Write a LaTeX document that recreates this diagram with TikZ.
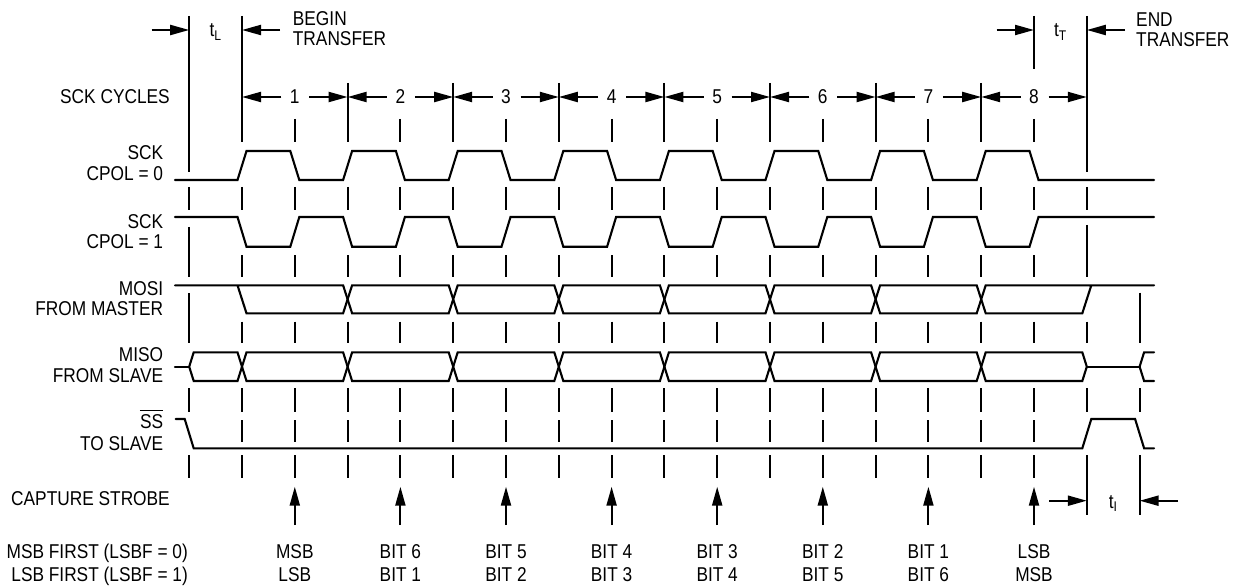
\documentclass[tikz,border=0pt]{standalone}
\usepackage{fontspec}
\setmainfont{Liberation Sans}[FakeStretch=0.865]
\usetikzlibrary{arrows.meta}
\newcommand\lblfont{\fontsize{20}{22}\selectfont}
\begin{document}
\begin{tikzpicture}[x=1pt,y=-1pt,
  sig/.style={line width=2.1pt,line join=miter,line cap=round},
  gridln/.style={line width=2.1pt},
  dim/.style={line width=2.1pt,-{Triangle[length=19pt,width=10pt]}},
  lbl/.style={inner sep=0pt,anchor=base east,font=\lblfont},
  lblw/.style={inner sep=0pt,anchor=base west,font=\lblfont},
  lblc/.style={inner sep=0pt,anchor=base,font=\lblfont}]
\useasboundingbox (0,0) rectangle (1242,588);

% ---------- grid segments ----------
\foreach \a/\b in {16/172,187/210,227/277,293/343,388/412,455/478}
  \draw[gridln] (189.2,\a) -- (189.2,\b);
\foreach \a/\b in {16/142,187/210,255/277,321.7/343,388/412,420/442,455/478}
  \draw[gridln] (242,\a) -- (242,\b);
\foreach \j in {1,...,15}
  \foreach \a/\b in {187/210,255/277,321.7/343,388/412,420/442,455/478}
    \draw[gridln] ({242+52.8*\j},\a) -- ({242+52.8*\j},\b);
\foreach \j in {2,4,...,14}
  \draw[gridln] ({242+52.8*\j},83) -- ({242+52.8*\j},142);
\foreach \j in {1,3,...,15}
  \draw[gridln] ({242+52.8*\j},119) -- ({242+52.8*\j},142);
\draw[gridln] (1034,16) -- (1034,69);
\foreach \a/\b in {16/172,187/210,225/277,321.7/343,388/412,455/515}
  \draw[gridln] (1086.8,\a) -- (1086.8,\b);
\foreach \a/\b in {292.7/343,388/412,455/515}
  \draw[gridln] (1139.6,\a) -- (1139.6,\b);

% ---------- SCK CPOL = 0 ----------
\draw[sig] (175,180) foreach \k in {0,...,7} {
  -- ({237.5+105.6*\k},180) -- ({246.5+105.6*\k},151)
  -- ({290.3+105.6*\k},151) -- ({299.3+105.6*\k},180) } -- (1154,180);
% ---------- SCK CPOL = 1 ----------
\draw[sig] (175,217) foreach \k in {0,...,7} {
  -- ({237.5+105.6*\k},217) -- ({246.5+105.6*\k},246.7)
  -- ({290.3+105.6*\k},246.7) -- ({299.3+105.6*\k},217) } -- (1154,217);

% ---------- MOSI ----------
\draw[sig] (175,285.3) -- (343.1,285.3) -- (347.6,299.3) -- (343.1,313.3)
  -- (246.5,313.3) -- (237.5,285.3);
\foreach \c in {0,...,5} {
  \pgfmathsetmacro\L{347.6+105.6*\c}
  \pgfmathsetmacro\R{\L+105.6}
  \draw[sig] (\L,299.3) -- ({\L+4.5},285.3) -- ({\R-4.5},285.3) -- (\R,299.3)
    -- ({\R-4.5},313.3) -- ({\L+4.5},313.3) -- cycle;
}
\draw[sig] (1154,285.3) -- (985.7,285.3) -- (981.2,299.3) -- (985.7,313.3)
  -- (1082.3,313.3) -- (1091.3,285.3);

% ---------- MISO ----------
\draw[sig] (175,366.7) -- (189.2,366.7);
\foreach \L/\R in {189.2/242,242/347.6,347.6/453.2,453.2/558.8,558.8/664.4,
                   664.4/770,770/875.6,875.6/981.2,981.2/1086.8}
  \draw[sig] (\L,366.7) -- ({\L+4.5},352.3) -- ({\R-4.5},352.3) -- (\R,366.7)
    -- ({\R-4.5},381) -- ({\L+4.5},381) -- cycle;
\draw[sig] (1086.8,366.7) -- (1139.6,366.7);
\draw[sig] (1154,352.3) -- (1144.1,352.3) -- (1139.6,366.7) -- (1144.1,381) -- (1154,381);

% ---------- SS ----------
\draw[sig] (175.7,419) -- (184.7,419) -- (193.7,448.3) -- (1082.3,448.3)
  -- (1091.3,419) -- (1135.1,419) -- (1144.1,448.3) -- (1154,448.3);

% ---------- signal labels ----------
\node[lbl] (sck0) at (163.3,160) {SCK};
\node[lbl] (cpol0) at (163.3,181) {CPOL = 0};
\node[lbl] (sck1) at (163.3,228.3) {SCK};
\node[lbl] (cpol1) at (163.3,248.3) {CPOL = 1};
\node[lbl] (mosi) at (163.3,295) {MOSI};
\node[lbl] (frommaster) at (163.3,315) {FROM MASTER};
\node[lbl] (miso) at (163.3,361.7) {MISO};
\node[lbl] (fromslave) at (163.3,382.7) {FROM SLAVE};
\node[lbl] (ss) at (163.3,428.3) {SS};
\draw[line width=1.7pt] ([yshift=3.5pt]ss.north west) -- ([yshift=3.5pt]ss.north east);
\node[lbl] (toslave) at (163.3,450) {TO SLAVE};
\node[lbl] (cycles) at (170,104) {SCK CYCLES};
\node[lbl] (strobe) at (170,505) {CAPTURE STROBE};
\node[lbl] (msbfirst) at (188,558) {MSB FIRST (LSBF = 0)};
\node[lbl] (lsbfirst) at (188,581) {LSB FIRST (LSBF = 1)};

% ---------- top labels and arrows ----------
\node[lblw] (begin) at (292.7,25.7) {BEGIN};
\node[lblw] (begintr) at (292.7,45.7) {TRANSFER};
\node[lblw] (end) at (1136,26.5) {END};
\node[lblw] (endtr) at (1136,46.5) {TRANSFER};
\node[lblc] (tl) at (215.6,37) {t\textsubscript{L}};
\node[lblc] (tt) at (1060.4,37) {t\textsubscript{T}};
\node[lblc] (ti) at (1113.2,508) {t\textsubscript{I}};
\draw[dim] (151.7,30) -- (189.2,30);
\draw[dim] (280,30) -- (242,30);
\draw[dim] (996.7,30) -- (1034,30);
\draw[dim] (1125,30) -- (1086.8,30);
\draw[dim] (1049,500.7) -- (1086.8,500.7);
\draw[dim] (1178,500.7) -- (1139.6,500.7);

% ---------- SCK cycles ----------
\foreach \k in {1,...,8} {
  \pgfmathsetmacro\L{242+105.6*(\k-1)}
  \pgfmathsetmacro\M{\L+52.8}
  \pgfmathsetmacro\R{\L+105.6}
  \node[lblc] (cyc\k) at (\M,103.5) {\k};
  \draw[dim] ({\M-13.5},97) -- (\L,97);
  \draw[dim] ({\M+14.5},97) -- (\R,97);
}

% ---------- capture strobes and bit labels ----------
\foreach \j/\a/\b in {1/MSB/LSB,3/BIT 6/BIT 1,5/BIT 5/BIT 2,7/BIT 4/BIT 3,
                      9/BIT 3/BIT 4,11/BIT 2/BIT 5,13/BIT 1/BIT 6,15/LSB/MSB} {
  \pgfmathsetmacro\X{242+52.8*\j}
  \draw[dim] (\X,525) -- (\X,486.7);
  \node[lblc] (top\j) at (\X,558) {\a};
  \node[lblc] (bot\j) at (\X,581) {\b};
}
\end{tikzpicture}
\end{document}
